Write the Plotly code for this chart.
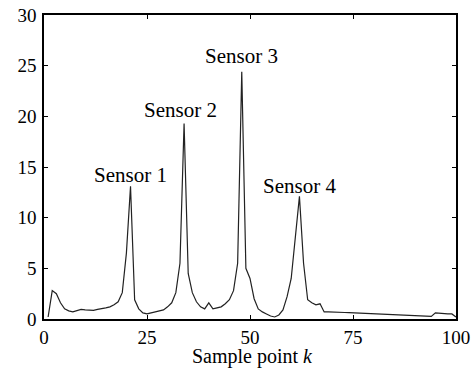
import plotly.graph_objects as go

k = list(range(1, 101))
values = [
    0.2, 2.8, 2.5, 1.6, 1.0, 0.8, 0.7, 0.8, 0.95, 0.9,
    0.9, 0.85, 0.95, 1.0, 1.1, 1.2, 1.4, 1.7, 2.6, 6.5,
    13.1, 1.9, 1.0, 0.6, 0.5, 0.6, 0.7, 0.8, 0.9, 1.2,
    1.6, 2.6, 5.5, 19.3, 4.5, 2.6, 1.7, 1.2, 1.0, 1.6,
    1.0, 1.1, 1.2, 1.5, 1.9, 2.8, 5.5, 24.4, 5.0, 4.0,
    2.0, 1.0, 0.7, 0.5, 0.3, 0.2, 0.4, 0.9, 2.2, 4.0,
    8.0, 12.1, 5.5, 1.9, 1.6, 1.4, 1.5, 0.7, 0.7, 0.7,
    0.68, 0.66, 0.64, 0.62, 0.6, 0.58, 0.56, 0.54, 0.52, 0.5,
    0.48, 0.46, 0.44, 0.42, 0.4, 0.38, 0.36, 0.34, 0.32, 0.3,
    0.28, 0.27, 0.26, 0.25, 0.6, 0.55, 0.55, 0.5, 0.5, 0.2,
]

label_text = ["Sensor 1", "Sensor 2", "Sensor 3", "Sensor 4"]
label_x = [20.9, 33.1, 47.9, 61.9]
label_y = [14.2, 20.6, 26.0, 13.1]

x_ticks = [0, 25, 50, 75, 100]
y_ticks = [0, 5, 10, 15, 20, 25, 30]
x_title = "Sample point <i>k</i>"

FONT = "Liberation Serif"

fig = go.Figure()
fig.add_trace(go.Scatter(x=k, y=values, mode="lines",
                         line=dict(color="#222222", width=1.2),
                         showlegend=False, hoverinfo="skip"))

for t, x, y in zip(label_text, label_x, label_y):
    fig.add_annotation(x=x, y=y, text=t, showarrow=False,
                       xanchor="center", yanchor="middle",
                       font=dict(family=FONT, size=21, color="black"))

# x-axis title as a paper-positioned annotation
fig.add_annotation(x=0.507, y=-0.122, xref="paper", yref="paper", text=x_title,
                   showarrow=False, xanchor="center", yanchor="middle",
                   borderpad=0,
                   font=dict(family=FONT, size=20, color="black"))

axis_common = dict(showline=True, linecolor="black", linewidth=1.5, mirror="ticks",
                   ticks="inside", ticklen=4, tickcolor="black", tickwidth=1,
                   showgrid=False, zeroline=False, automargin=False,
                   tickfont=dict(family=FONT, size=19, color="black"))

fig.update_xaxes(range=[0, 100], tickvals=x_ticks, **axis_common)
fig.update_yaxes(range=[0, 30], tickvals=y_ticks, ticklabelstandoff=2, **axis_common)

fig.update_layout(width=475, height=368,
                  margin=dict(l=44, r=19, t=15, b=49, autoexpand=False),
                  paper_bgcolor="white", plot_bgcolor="white")

fig.write_html("out.html")
